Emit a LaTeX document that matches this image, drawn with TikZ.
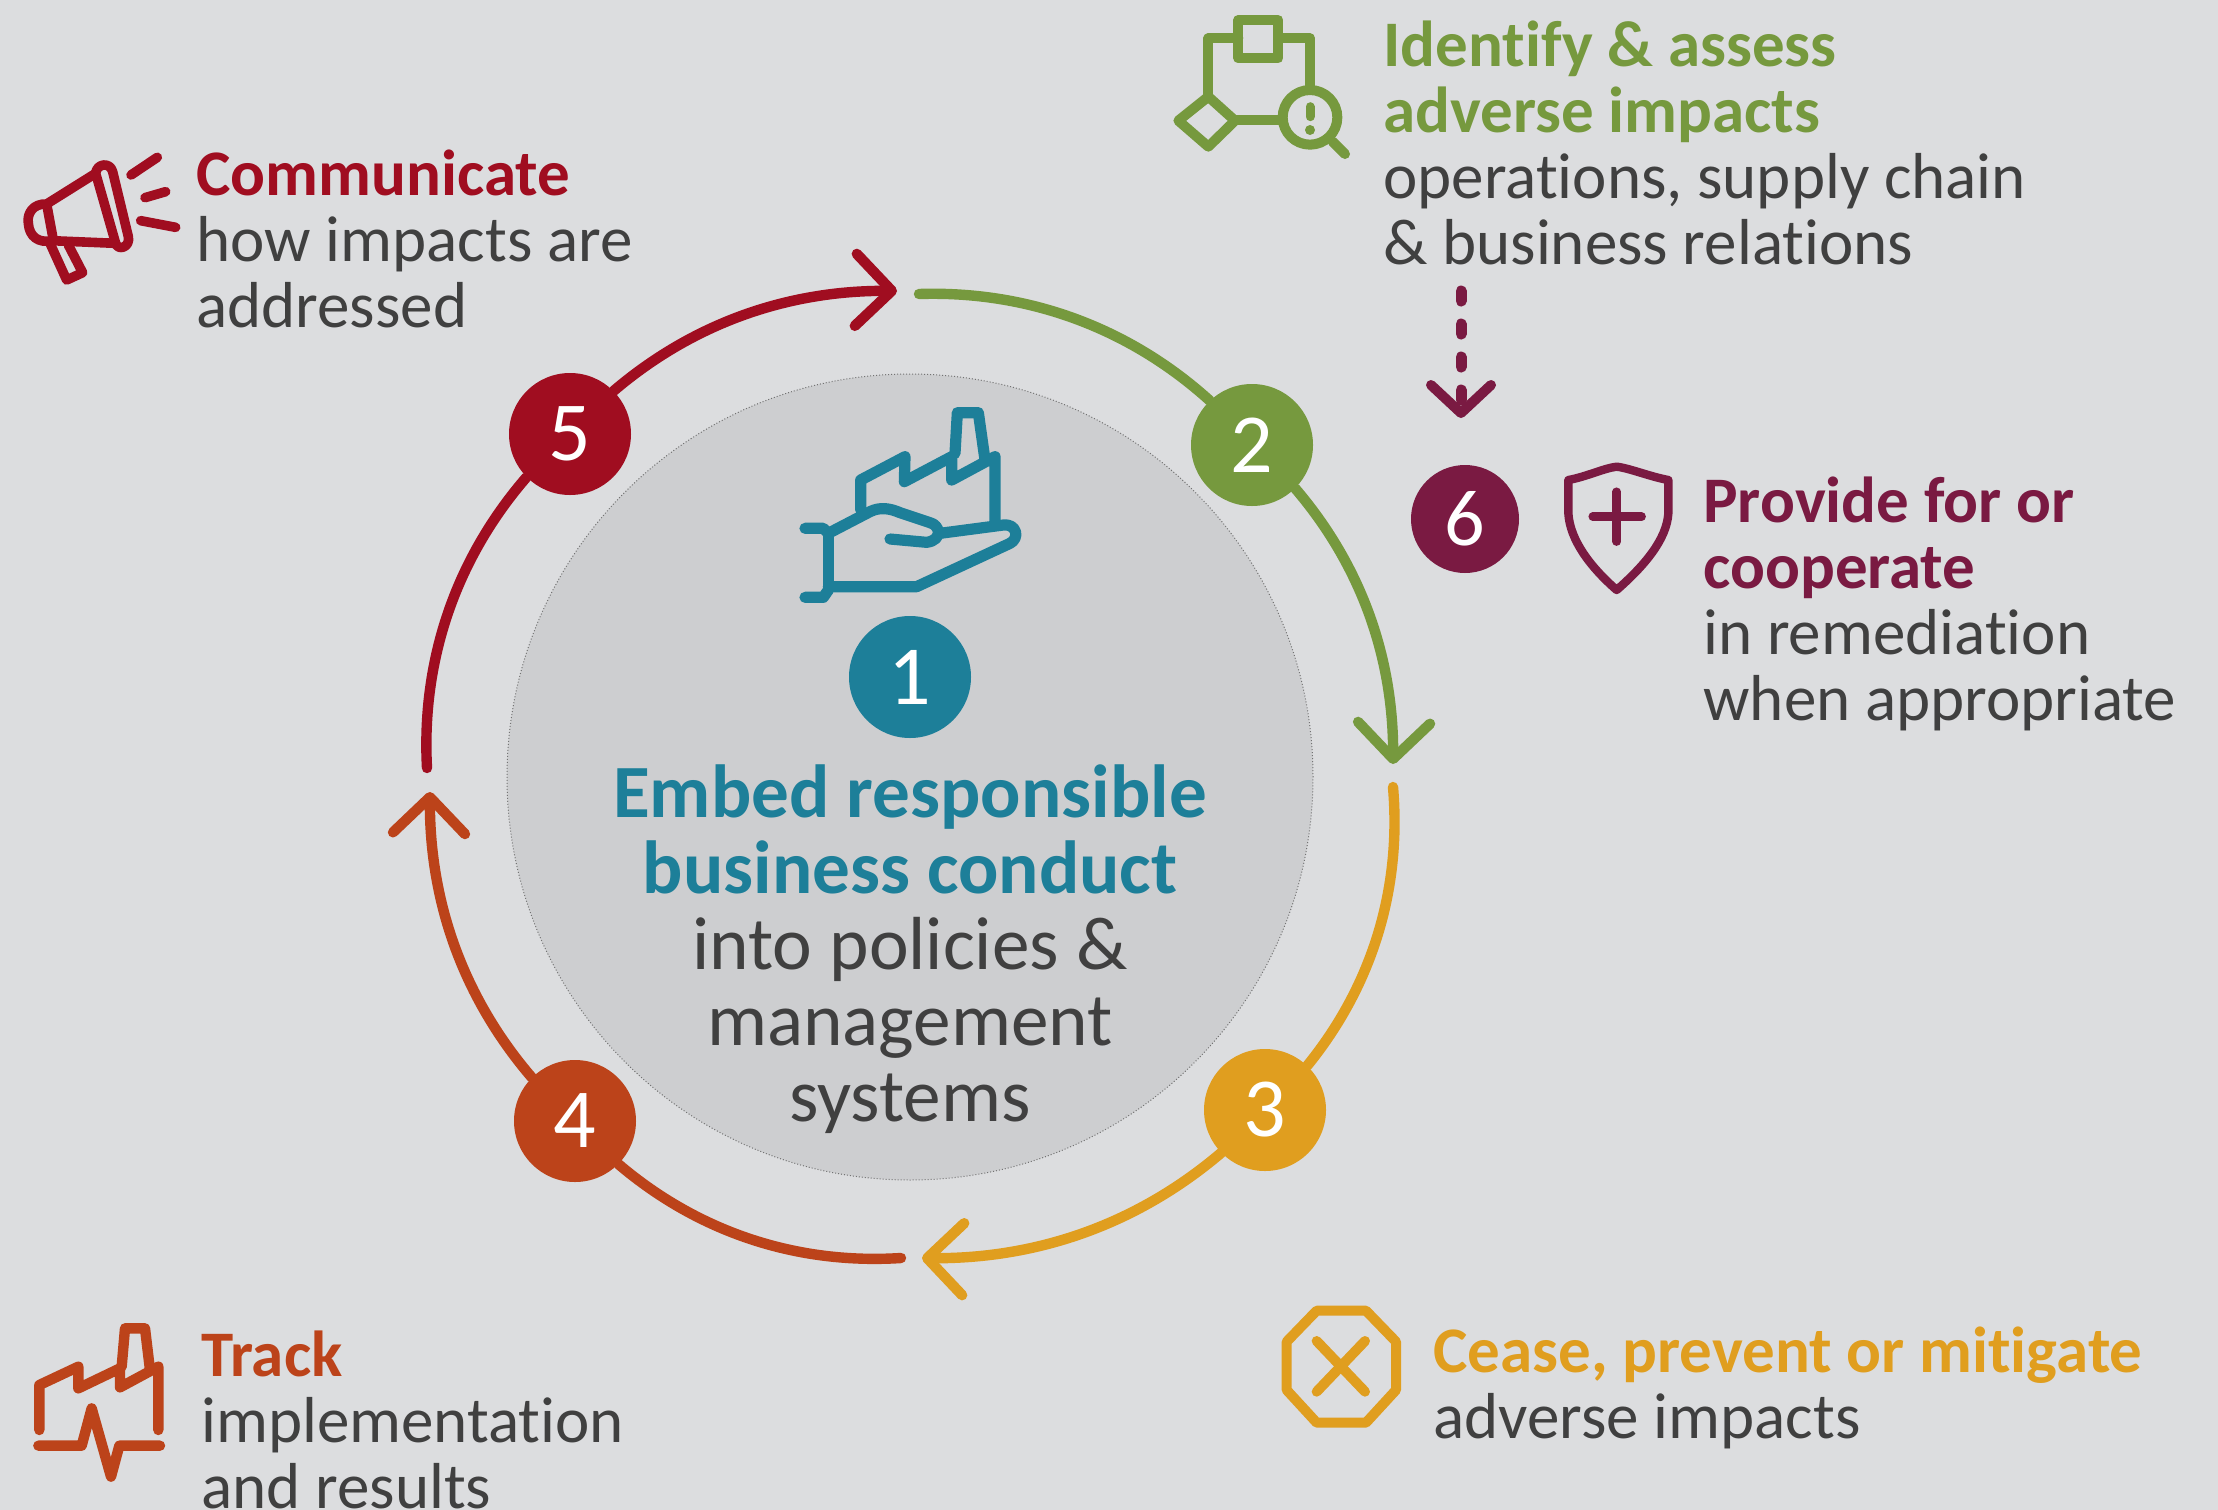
\documentclass[tikz,border=0pt]{standalone}
\usepackage{fontspec}
\setmainfont[Ligatures=NoCommon]{Carlito}
\usetikzlibrary{arrows.meta,bending}
\definecolor{bgc}{HTML}{DCDDDF}
\definecolor{hubc}{HTML}{CDCED0}
\definecolor{tealc}{HTML}{1D7F99}
\definecolor{greenc}{HTML}{76993E}
\definecolor{amberc}{HTML}{E09E1F}
\definecolor{rustc}{HTML}{BC431A}
\definecolor{crimc}{HTML}{A00D20}
\definecolor{purpc}{HTML}{7A1A42}
\definecolor{txtc}{HTML}{404040}
\tikzset{
  ring/.style={line width=5.2pt,line cap=round},
  ringarrow/.style={ring,-{Straight Barb[length=18pt,width=36pt,line width=5.2pt,round]}},
  numnode/.style={circle,inner sep=0pt,minimum size=61pt,text=white,font=\fontsize{42}{42}\selectfont},
  para/.style={anchor=west,align=left,inner sep=0pt,text=txtc,font=\fontsize{32.5}{33}\selectfont},
  zoomicon/.style={x=0.16667pt,y=-0.16667pt,line join=round,line cap=round},
}
\begin{document}
\begin{tikzpicture}[x=0.5pt,y=0.5pt]
\fill[bgc] (0,0) rectangle (2218,-1510);
\useasboundingbox (0,0) rectangle (2218,-1510);

% hub
\node[circle,fill=hubc,draw=black!55,densely dotted,line width=0.5pt,inner sep=0pt,minimum size=403pt] (hub) at (910,-777) {};

% arc end points
\coordinate (s2) at (919,-294);
\coordinate (t2) at (1393,-764);
\coordinate (s3) at (1393,-787);
\coordinate (t3) at (922,-1258);
\coordinate (s4) at (901,-1258);
\coordinate (t4) at (430,-792);
\coordinate (s5) at (427,-768);
\coordinate (t5) at (897,-291);

% numbered nodes
\node[numnode,fill=greenc] (n2) at (1252,-445) {2};
\node[numnode,fill=amberc] (n3) at (1265,-1110) {3};
\node[numnode,fill=rustc] (n4) at (575,-1121) {4};
\node[numnode,fill=crimc] (n5) at (570,-434) {5};
\node[numnode,fill=tealc] (n1) at (910,-677) {1};
\node[numnode,fill=purpc,minimum size=54pt,font=\fontsize{40}{40}\selectfont] (n6) at (1465,-519) {6};

% ring
\begin{scope}[looseness=0.9]
\draw[ring,greenc] (s2) to[bend left=22] (n2);
\draw[ringarrow,greenc] (n2) to[bend left=21] (t2);
\draw[ring,amberc] (s3) to[bend left=22] (n3);
\draw[ringarrow,amberc] (n3) to[bend left=21] (t3);
\draw[ring,rustc] (s4) to[bend left=22] (n4);
\draw[ringarrow,rustc] (n4) to[bend left=21] (t4);
\draw[ring,crimc] (s5) to[bend left=22] (n5);
\draw[ringarrow,crimc] (n5) to[bend left=21] (t5);
\end{scope}

% dashed arrow
\coordinate (d0) at (1461,-291);
\coordinate (d1) at (1461,-418);
\draw[purpc,line width=5.5pt,line cap=round,dash pattern=on 5pt off 11.5pt,-{Straight Barb[length=14pt,width=30pt,line width=5pt,round]}] (d0) -- (d1);

% texts
\node[para] (tident) at (1383,-143) {\textcolor{greenc}{\bfseries Identify \& assess}\\\textcolor{greenc}{\bfseries adverse impacts}\\operations, supply chain\\\& business relations};
\node[para] (tcomm) at (196,-239) {\textcolor{crimc}{\bfseries Communicate}\\how impacts are\\addressed};
\node[para] (ttrack) at (201,-1420) {\textcolor{rustc}{\bfseries Track}\\implementation\\and results};
\node[para] (tcease) at (1433,-1388) {\textcolor{amberc}{\bfseries Cease, prevent or mitigate}\\adverse impacts};
\node[para] (tprov) at (1703,-604) {\textcolor{purpc}{\bfseries Provide for or}\\\textcolor{purpc}{\bfseries cooperate}\\in remediation\\when appropriate};
\node[inner sep=0pt,align=center,text=txtc,font=\fontsize{37.6}{38}\selectfont] (thub) at (910,-949) {\textcolor{tealc}{\bfseries Embed responsible}\\\textcolor{tealc}{\bfseries business conduct}\\into policies \&\\management\\systems};

% icon: identify
\begin{scope}[shift={(1140,0)},zoomicon,greenc,line width=5pt]
\draw (295,60) rectangle (415,175);
\draw (295,115) -- (205,115) -- (205,290);
\draw (415,115) -- (510,115) -- (510,265);
\draw (205,290) -- (285,362) -- (205,440) -- (115,362) -- cycle;
\draw (285,360) -- (425,360);
\draw (510,352) circle[radius=82];
\draw[line width=4.5pt] (510,320) -- (510,350);
\fill (510,390) circle[radius=15];
\draw (578,425) -- (615,462);
\end{scope}

% icon: megaphone
\begin{scope}[shift={(0,-130)},zoomicon,crimc,line width=4.8pt]
\draw (287,130) .. controls (290,100) and (330,95) .. (338,125) -- (385,320) .. controls (392,350) and (355,365) .. (347,340) -- cycle;
\draw (287,130) -- (140,222) .. controls (100,220) and (80,250) .. (85,280) .. controls (88,320) and (115,340) .. (155,332) -- (347,340);
\draw (140,222) -- (160,330);
\draw (150,340) -- (200,450) -- (248,428) -- (205,345);
\draw (393,135) -- (472,82);
\draw (435,203) -- (497,185);
\draw (422,272) -- (527,292);
\end{scope}

% icon: factory on hand
\begin{scope}[shift={(770,-390)},zoomicon,tealc,line width=5.6pt]
\draw (272,360) -- (272,270) -- (405,200) -- (403,275) -- (545,200) -- (545,270) -- (675,200) -- (675,400);
\draw (555,190) -- (562,68) -- (625,68) -- (645,210);
\draw (175,430) -- (300,365) .. controls (330,350) and (360,355) .. (390,368) -- (480,398) .. controls (510,405) and (520,450) .. (470,457) -- (360,447);
\draw (510,430) -- (700,405) .. controls (740,400) and (750,445) .. (720,460) -- (440,590) -- (175,590);
\draw (175,430) -- (175,600);
\draw (105,415) -- (160,415) -- (175,430);
\draw (105,622) -- (160,622) -- (175,600);
\end{scope}

% icon: factory pulse
\begin{scope}[shift={(10,-1300)},zoomicon,rustc,line width=5.2pt]
\draw (88,390) -- (88,255) -- (205,200) -- (205,265) -- (330,205) -- (330,262) -- (445,200) -- (445,390);
\draw (335,200) -- (345,85) -- (405,85) -- (420,210);
\draw (85,437) -- (215,437) -- (245,325) -- (303,530) -- (328,437) -- (450,437);
\end{scope}

% icon: octagon
\begin{scope}[shift={(1260,-1280)},zoomicon,amberc,line width=5pt]
\draw[line cap=butt] (170,92) -- (318,92) -- (408,185) -- (408,330) -- (318,428) -- (170,428) -- (80,330) -- (80,185) -- cycle;
\draw (170,183) -- (315,335);
\draw (315,183) -- (170,335);
\end{scope}

% icon: shield
\begin{scope}[shift={(1400,-270)},zoomicon,purpc,line width=4.2pt]
\draw (505,630) .. controls (560,620) and (610,595) .. (650,590) .. controls (690,595) and (750,620) .. (805,630) -- (805,730) .. controls (800,810) and (730,890) .. (650,960) .. controls (570,890) and (510,810) .. (505,730) -- cycle;
\draw (650,665) -- (650,815);
\draw (578,740) -- (725,740);
\end{scope}
\end{tikzpicture}
\end{document}
